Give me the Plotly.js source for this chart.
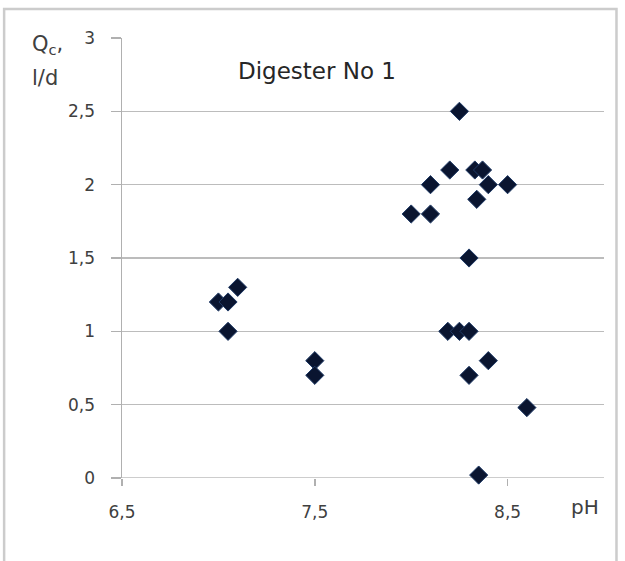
<!DOCTYPE html>
<html>
<head>
<meta charset="utf-8">
<script src="https://cdn.plot.ly/plotly-3.0.1.min.js"></script>
<style>html,body{margin:0;padding:0;background:#fff;}#chart{width:625px;height:561px;}</style>
</head>
<body>
<div id="chart"></div>
<script>
var phValues = [7.0, 7.05, 7.05, 7.1, 7.5, 7.5, 8.0, 8.1, 8.1, 8.2, 8.25, 8.19, 8.25, 8.3, 8.3, 8.3, 8.33, 8.37, 8.4, 8.34, 8.4, 8.5, 8.6, 8.35];
var qcValues = [1.2, 1.2, 1.0, 1.3, 0.8, 0.7, 1.8, 1.8, 2.0, 2.1, 2.5, 1.0, 1.0, 1.0, 1.5, 0.7, 2.1, 2.1, 2.0, 1.9, 0.8, 2.0, 0.48, 0.02];
var xTickVals = [6.5, 7.5, 8.5];
var xTickText = ['6,5', '7,5', '8,5'];
var yTickVals = [0, 0.5, 1, 1.5, 2, 2.5, 3];
var yTickText = ['0', '0,5', '1', '1,5', '2', '2,5', '3'];

var font = '"DejaVu Sans", sans-serif';
var trace = {
  x: phValues, y: qcValues, type: 'scatter', mode: 'markers',
  marker: {symbol: 'diamond', size: 14, color: '#0a1530', line: {color: '#1f3a66', width: 1}},
  hoverinfo: 'none', cliponaxis: false
};
var layout = {
  width: 625, height: 561,
  margin: {l: 122, r: 20.5, t: 38, b: 83},
  paper_bgcolor: '#ffffff', plot_bgcolor: '#ffffff',
  showlegend: false,
  font: {family: font, size: 17, color: '#404040'},
  xaxis: {
    range: [6.5, 9.0], tickvals: xTickVals, ticktext: xTickText,
    showgrid: false, zeroline: false, showline: false,
    ticks: 'outside', ticklen: 7, tickcolor: '#b0b0b0', tickwidth: 1.5,
    tickfont: {family: font, size: 17, color: '#404040'}, ticklabelstandoff: 12, fixedrange: true
  },
  yaxis: {
    range: [0, 3], tickvals: yTickVals, ticktext: yTickText,
    showgrid: true, gridcolor: '#bcbcbc', gridwidth: 1.5,
    zeroline: false, showline: true, linecolor: '#b0b0b0', linewidth: 1.5,
    ticks: 'outside', ticklen: 10, tickcolor: '#b0b0b0', tickwidth: 1.5,
    tickfont: {family: font, size: 17, color: '#404040'}, ticklabelstandoff: 12, fixedrange: true
  },
  shapes: [
    {type: 'rect', xref: 'paper', yref: 'paper', x0: -118/482.5, x1: 495/482.5, y0: -100/440, y1: 1 + 29/440,
     line: {color: '#cccccc', width: 2.5}, fillcolor: 'rgba(0,0,0,0)', layer: 'below'},
    {type: 'line', xref: 'paper', yref: 'y', x0: 0, x1: 1, y0: 0, y1: 0, line: {color: '#bcbcbc', width: 1.5}, layer: 'below'}
  ],
  annotations: [
    {xref: 'paper', yref: 'paper', x: (236 - 122) / 482.5, y: (478 - 71) / 440, xanchor: 'left', yanchor: 'middle',
     text: 'Digester No 1', showarrow: false, font: {family: font, size: 23, color: '#262626'}},
    {xref: 'paper', yref: 'paper', x: (30 - 122) / 482.5, y: (478 - 45) / 440, xanchor: 'left', yanchor: 'middle',
     text: 'Q<sub>c</sub>,', showarrow: false, font: {family: font, size: 21, color: '#404040'}},
    {xref: 'paper', yref: 'paper', x: (30 - 122) / 482.5, y: (478 - 78) / 440, xanchor: 'left', yanchor: 'middle',
     text: 'l/d', showarrow: false, font: {family: font, size: 21, color: '#404040'}},
    {xref: 'paper', yref: 'paper', x: (585 - 122) / 482.5, y: (478 - 507) / 440, xanchor: 'center', yanchor: 'middle',
     text: 'pH', showarrow: false, font: {family: font, size: 20, color: '#404040'}}
  ]
};
Plotly.newPlot('chart', [trace], layout, {displayModeBar: false, staticPlot: true});
</script>
</body>
</html>
